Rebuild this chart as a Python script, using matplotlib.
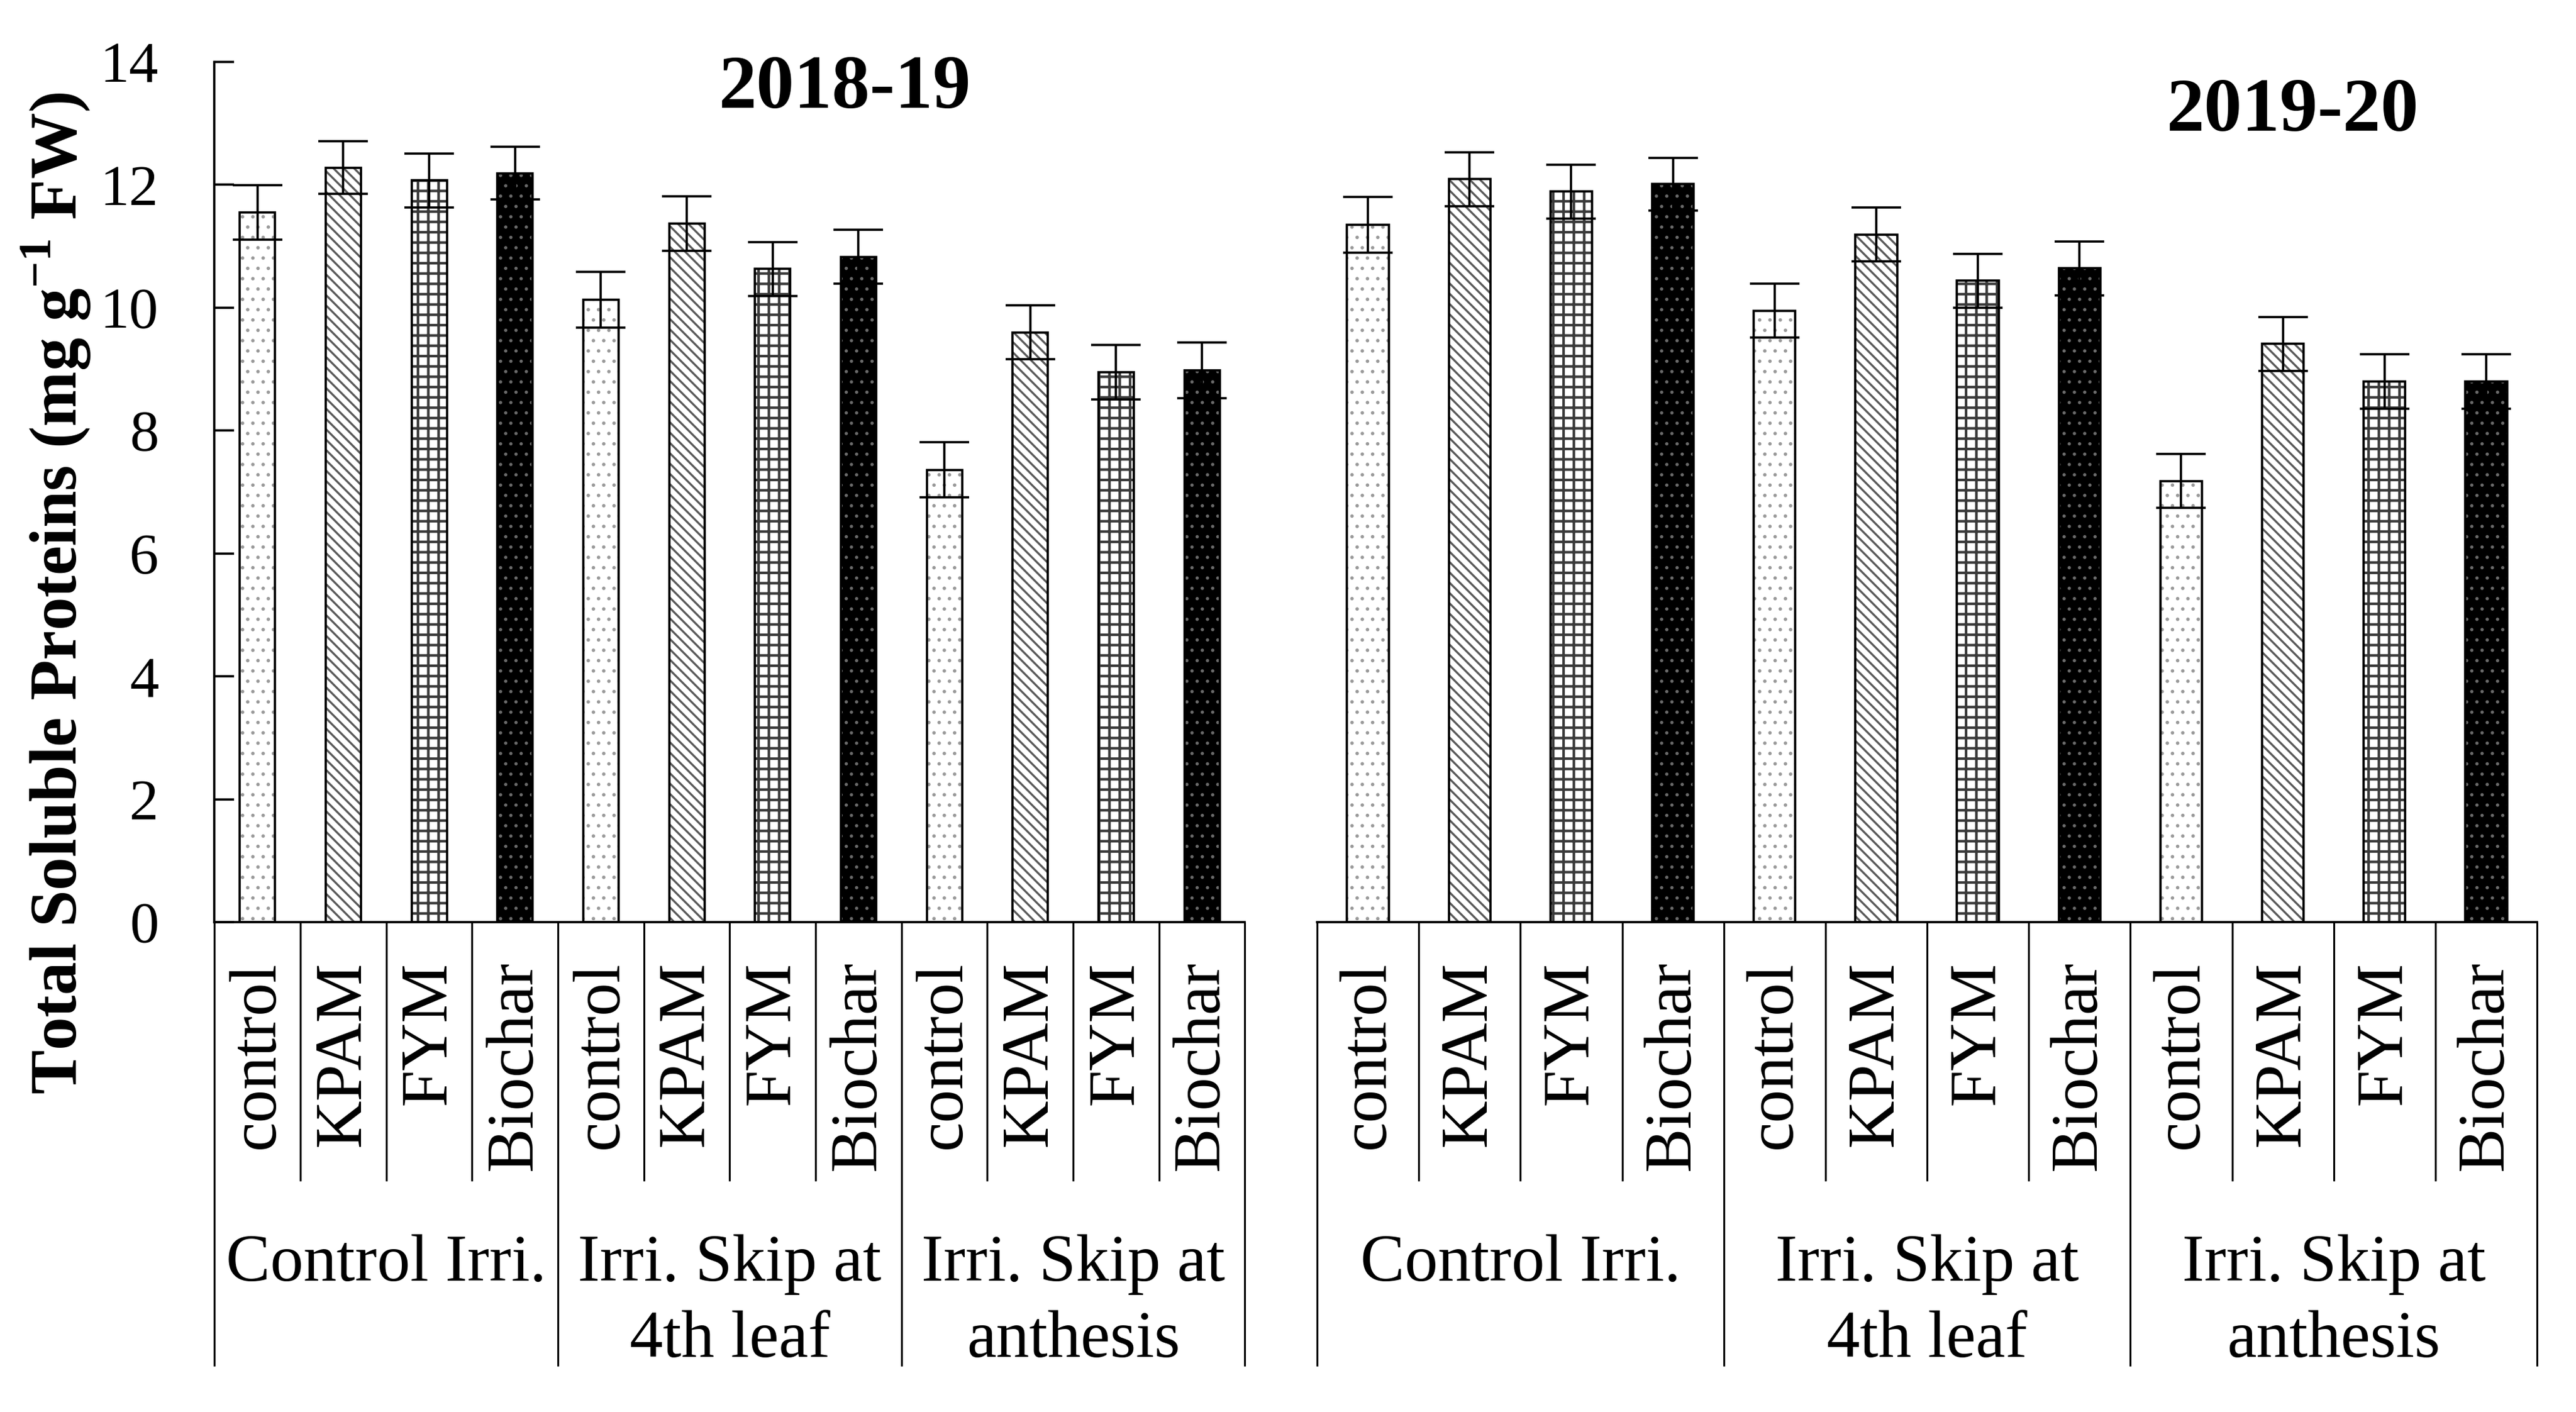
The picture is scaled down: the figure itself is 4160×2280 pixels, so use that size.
import numpy as np
import matplotlib.pyplot as plt
from matplotlib.transforms import blended_transform_factory

plt.rcParams['font.family'] = ['Liberation Serif', 'DejaVu Serif']
plt.rcParams['mathtext.fontset'] = 'custom'
plt.rcParams['mathtext.rm'] = 'Liberation Serif'
plt.rcParams['mathtext.bf'] = 'Liberation Serif:bold'
plt.rcParams['hatch.linewidth'] = 2.4

# data
treatments = ["control", "KPAM", "FYM", "Biochar"]
irrigations = ["Control Irri.", "Irri. Skip at\n4th leaf", "Irri. Skip at\nanthesis"]
seasons = ["2018-19", "2019-20"]

tsp_2018 = [11.55, 12.28, 12.07, 12.19, 10.13, 11.37, 10.63, 10.83, 7.36, 9.60, 8.95, 8.98]
err_2018 = [0.44, 0.43, 0.44, 0.43, 0.45, 0.44, 0.44, 0.44, 0.45, 0.44, 0.44, 0.45]
tsp_2019 = [11.35, 12.09, 11.89, 12.01, 9.95, 11.19, 10.44, 10.64, 7.18, 9.41, 8.80, 8.80]
err_2019 = [0.45, 0.44, 0.44, 0.43, 0.44, 0.44, 0.44, 0.44, 0.44, 0.44, 0.44, 0.44]

# look of each treatment bar (face, hatch, hatch colour, hatch width)
faces = ['white', 'white', 'white', 'black']
hatches = ['.', '\\\\', '+', '.']
hatch_cols = ['#9a9a9a', '#5a5a5a', '#3a3a3a', '#6a6a6a']
hatch_lws = [1.6, 2.4, 3.0, 1.4]

fig = plt.figure(figsize=(41.6, 22.8), dpi=100)
ax1 = fig.add_axes([0.08329, 0.34693, 0.4, 0.60921])
ax2 = fig.add_axes([0.51130, 0.34693, 0.47356, 0.60921])

lw = 2.6
inner_bot = -0.301
outer_bot = -0.516


def draw_panel(ax, vals, errs, show_y):
    n = len(vals)
    x = np.arange(n)
    for i in range(n):
        k = i % len(treatments)
        with plt.rc_context({'hatch.linewidth': hatch_lws[k]}):
            bars = ax.bar(x[i], vals[i], width=0.41, color=faces[k], edgecolor=hatch_cols[k],
                          hatch=hatches[k], linewidth=0, zorder=2)
        for b in bars:
            if hasattr(b, 'set_hatch_linewidth'):
                b.set_hatch_linewidth(hatch_lws[k])
        ax.bar(x[i], vals[i], width=0.41, facecolor='none', edgecolor='black',
               linewidth=lw, zorder=3)
    ax.errorbar(x, vals, yerr=errs, fmt='none', ecolor='black', elinewidth=lw,
                capsize=29, capthick=lw, zorder=5)
    ax.set_xlim(-0.5, n - 0.5)
    ax.set_ylim(0, 14)
    ax.set_xticks([])
    for s in ['top', 'right']:
        ax.spines[s].set_visible(False)
    ax.spines['bottom'].set_linewidth(lw)
    if show_y:
        ax.spines['left'].set_linewidth(lw)
        ax.set_yticks(np.arange(0, 15, 2))
        ax.tick_params(axis='y', direction='in', length=23, width=lw,
                       labelsize=68, pad=65)
    else:
        ax.spines['left'].set_visible(False)
        ax.set_yticks([])

    tr = blended_transform_factory(ax.transData, ax.transAxes)
    # table lines below the bars
    for j in range(n + 1):
        xb = j - 0.5
        bot = outer_bot if j % len(treatments) == 0 else inner_bot
        ax.plot([xb, xb], [0, bot], color='black', lw=2.2, transform=tr,
                clip_on=False, solid_capstyle='butt')
    # treatment names
    for i in range(n):
        ax.text(x[i], -0.045, treatments[i % len(treatments)], rotation=90,
                ha='center', va='top', fontsize=77, transform=tr)
    # irrigation names
    for g, name in enumerate(irrigations):
        xc = g * len(treatments) + (len(treatments) - 1) / 2
        for li, line in enumerate(name.split('\n')):
            ax.text(xc, -0.4168 - li * 0.0886, line, ha='center', va='baseline',
                    fontsize=77, transform=tr)


draw_panel(ax1, tsp_2018, err_2018, True)
draw_panel(ax2, tsp_2019, err_2019, False)

fig.text(0.328, 0.9368, seasons[0], ha='center', va='center', fontsize=88, fontweight='bold')
fig.text(0.890, 0.9206, seasons[1], ha='center', va='center', fontsize=88, fontweight='bold')
fig.text(0.0216, 0.5798, r'Total Soluble Proteins (mg g$^{\mathbf{-1}}$ FW)', rotation=90,
         ha='center', va='center', fontsize=77, fontweight='bold')

fig.savefig('out.png', dpi=100)
